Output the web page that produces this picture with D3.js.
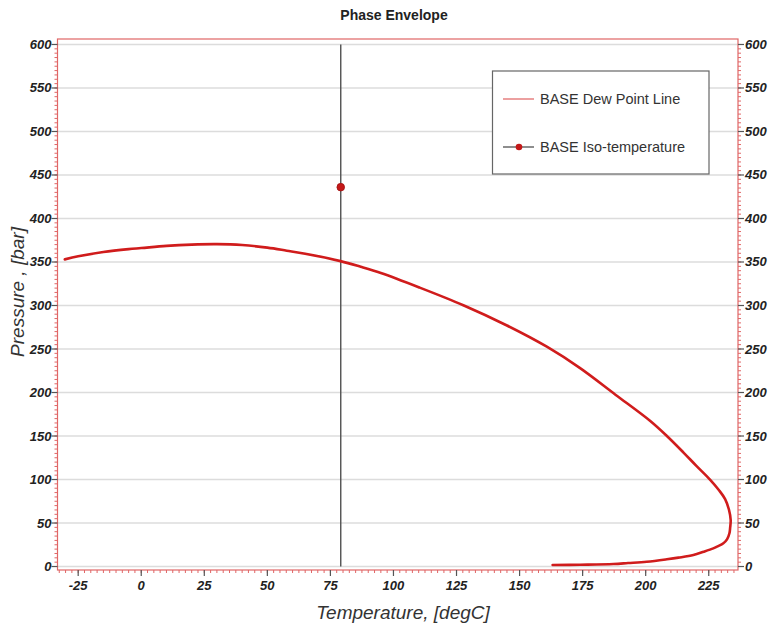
<!DOCTYPE html>
<html>
<head>
<meta charset="utf-8">
<script src="https://cdn.jsdelivr.net/npm/d3@7"></script>
<style>
  html, body { margin: 0; padding: 0; background: #fff; }
  svg { display: block; font-family: "Liberation Sans", Arial, sans-serif; }
</style>
</head>
<body>
<svg id="chart" width="770" height="627"></svg>
<script>
// ---- Data ----
const dewTemp = [-30.3, -25, -15, -5, 0, 10, 20, 30, 40, 50, 57.7, 65, 79, 87, 95, 110, 127.7, 145, 160.8, 174, 188, 201.7, 208.4, 215, 220, 225.5, 229, 231.5, 233, 233.7, 233.5, 233.2, 232.3, 230.8, 228.5, 226.8, 223, 218.9, 213, 208.4, 200.4, 193, 187.2, 174, 163.1];
const dewPress = [353, 356.5, 361.5, 364.8, 366, 368.5, 370, 370.5, 369.5, 366.5, 363, 359.5, 351, 344.5, 337.3, 321, 300.3, 277, 252.6, 228, 197.5, 167.5, 150, 131, 116, 100, 88, 77.5, 65.5, 53.4, 45, 38.2, 31.5, 26.7, 23.2, 20.9, 17, 13.2, 10.2, 8.3, 5.5, 4, 2.9, 2.1, 1.7];
const isoTemp = [79.1, 79.1];
const isoPress = [0, 600];
const isoPointTemp = [79.1];
const isoPointPress = [436];
const xTicks = [-25, 0, 25, 50, 75, 100, 125, 150, 175, 200, 225];
const yTicks = [0, 50, 100, 150, 200, 250, 300, 350, 400, 450, 500, 550, 600];
const legendLabels = ["BASE Dew Point Line", "BASE Iso-temperature"];
const titleText = "Phase Envelope";
const xTitle = "Temperature, [degC]";
const yTitle = "Pressure , [bar]";

// ---- Layout ----
const svg = d3.select("#chart");
const L = 57.5, R = 738, T = 39, B = 570;
const x = d3.scaleLinear().domain([-33.2, 236.6]).range([L, R]);
const y = d3.scaleLinear().domain([-4, 606.3]).range([B, T]);
const frameColor = "#e06666";
const red = "#d01c1c";

// gridlines
svg.append("g").selectAll("line").data(yTicks).join("line")
  .attr("x1", L).attr("x2", R)
  .attr("y1", d => y(d)).attr("y2", d => y(d))
  .attr("stroke", "#dcdcdc").attr("stroke-width", 1.5);

// frame
svg.append("rect").attr("x", L).attr("y", T).attr("width", R - L).attr("height", B - T)
  .attr("fill", "none").attr("stroke", frameColor).attr("stroke-width", 1.2);

// minor ticks
const yMinor = d3.range(0, 601, 5);
const xMinor = d3.range(-32.5, 236, 2.5);
const tickG = svg.append("g");
tickG.selectAll(".ylm").data(yMinor).join("line")
  .attr("x1", L - 3).attr("x2", L).attr("y1", d => y(d)).attr("y2", d => y(d))
  .attr("stroke", frameColor).attr("stroke-width", 1);
tickG.selectAll(".yrm").data(yMinor).join("line")
  .attr("x1", R).attr("x2", R + 3).attr("y1", d => y(d)).attr("y2", d => y(d))
  .attr("stroke", frameColor).attr("stroke-width", 1);
tickG.selectAll(".xm").data(xMinor).join("line")
  .attr("x1", d => x(d)).attr("x2", d => x(d)).attr("y1", B).attr("y2", B + 3)
  .attr("stroke", frameColor).attr("stroke-width", 1);

// major ticks + labels
const labelStyle = s => s.attr("font-size", 13).attr("font-weight", "bold")
  .attr("font-style", "italic").attr("fill", "#222");
const yl = svg.append("g");
yl.selectAll("line.l").data(yTicks).join("line").attr("class", "l")
  .attr("x1", L - 6).attr("x2", L).attr("y1", d => y(d)).attr("y2", d => y(d))
  .attr("stroke", "#555").attr("stroke-width", 1.2);
yl.selectAll("line.r").data(yTicks).join("line").attr("class", "r")
  .attr("x1", R).attr("x2", R + 6).attr("y1", d => y(d)).attr("y2", d => y(d))
  .attr("stroke", "#555").attr("stroke-width", 1.2);
yl.selectAll("text.l").data(yTicks).join("text").attr("class", "l")
  .attr("x", L - 6).attr("y", d => y(d) + 4.5).attr("text-anchor", "end")
  .text(d => d).call(labelStyle);
yl.selectAll("text.r").data(yTicks).join("text").attr("class", "r")
  .attr("x", R + 7).attr("y", d => y(d) + 4.5).attr("text-anchor", "start")
  .text(d => d).call(labelStyle);
const xl = svg.append("g");
xl.selectAll("line").data(xTicks).join("line")
  .attr("x1", d => x(d)).attr("x2", d => x(d)).attr("y1", B).attr("y2", B + 6)
  .attr("stroke", "#555").attr("stroke-width", 1.2);
xl.selectAll("text").data(xTicks).join("text")
  .attr("x", d => x(d)).attr("y", 590).attr("text-anchor", "middle")
  .text(d => d).call(labelStyle);

// isotherm line
svg.append("line")
  .attr("x1", x(isoTemp[0])).attr("x2", x(isoTemp[1]))
  .attr("y1", y(isoPress[0])).attr("y2", y(isoPress[1]))
  .attr("stroke", "#505050").attr("stroke-width", 1.4);

// dew point line
const pts = dewTemp.map((t, i) => [t, dewPress[i]]);
svg.append("path").datum(pts)
  .attr("d", d3.line().x(d => x(d[0])).y(d => y(d[1])).curve(d3.curveCatmullRom.alpha(0.5)))
  .attr("fill", "none").attr("stroke", red).attr("stroke-width", 2.6)
  .attr("stroke-linejoin", "round").attr("stroke-linecap", "round");

// iso point
svg.selectAll("circle.iso").data(isoPointTemp).join("circle").attr("class", "iso")
  .attr("cx", d => x(d)).attr("cy", (d, i) => y(isoPointPress[i])).attr("r", 3.8)
  .attr("fill", "#c41818").attr("stroke", "#a01010").attr("stroke-width", 0.8);

// legend
const lg = svg.append("g");
lg.append("rect").attr("x", 492.5).attr("y", 71).attr("width", 216.5).attr("height", 103)
  .attr("fill", "#fff").attr("stroke", "#666").attr("stroke-width", 1.2);
lg.append("line").attr("x1", 503).attr("x2", 534).attr("y1", 99).attr("y2", 99)
  .attr("stroke", "#e06060").attr("stroke-width", 1.2);
lg.append("line").attr("x1", 503).attr("x2", 534).attr("y1", 147).attr("y2", 147)
  .attr("stroke", "#444").attr("stroke-width", 1.2);
lg.append("circle").attr("cx", 519).attr("cy", 147).attr("r", 3.3).attr("fill", "#c41818");
lg.selectAll("text").data(legendLabels).join("text")
  .attr("x", 540).attr("y", (d, i) => 104 + i * 48)
  .attr("font-size", 14.5).attr("fill", "#333").text(d => d);

// titles
svg.append("text").attr("x", 394).attr("y", 20).attr("text-anchor", "middle")
  .attr("font-size", 14).attr("font-weight", "bold").attr("fill", "#222").text(titleText);
svg.append("text").attr("x", 403).attr("y", 619).attr("text-anchor", "middle")
  .attr("font-size", 19).attr("font-style", "italic").attr("fill", "#333").text(xTitle);
svg.append("text").attr("transform", "translate(24,292) rotate(-90)").attr("text-anchor", "middle")
  .attr("font-size", 19).attr("font-style", "italic").attr("fill", "#333").text(yTitle);
</script>
</body>
</html>
